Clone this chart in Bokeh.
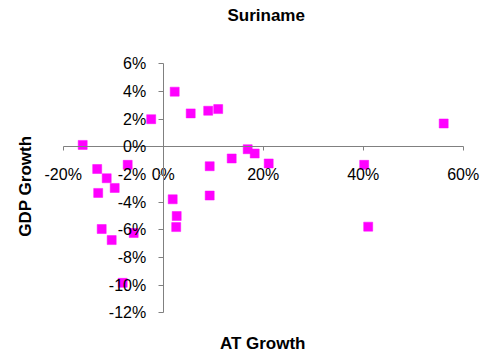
import math
from bokeh.plotting import figure
from bokeh.models import Range1d, LinearAxis, FixedTicker, PrintfTickFormatter, Label, ColumnDataSource
from bokeh.embed import file_html
from bokeh.resources import INLINE

# Data (percent)
at_growth = [-16.1, -13.2, -11.3, -9.7, -13.0, -7.1, -2.4, 2.3, 5.5, 9.0, 11.0,
             9.3, 13.7, 16.9, 18.3, 21.1, 40.2, 56.1, 1.9, 9.3, 2.7, 2.6, 41.0,
             -12.3, -10.3, -5.9, -8.1]
gdp_growth = [0.14, -1.6, -2.27, -2.97, -3.33, -1.3, 2.0, 3.99, 2.42, 2.61, 2.73,
              -1.4, -0.84, -0.17, -0.48, -1.2, -1.3, 1.69, -3.79, -3.52, -5.0, -5.8, -5.77,
              -5.94, -6.74, -6.23, -9.83]
x_ticks = [-20, 0, 20, 40, 60]
y_ticks = [-12, -10, -8, -6, -4, -2, 0, 2, 4, 6]
title_text = "Suriname"
x_title = "AT Growth"
y_title = "GDP Growth"

FONT = "Liberation Sans"

p = figure(width=486, height=358, output_backend="svg", toolbar_location=None,
           x_range=Range1d(-32.54, 64.66), y_range=Range1d(-15.30, 10.58),
           x_axis_type=None, y_axis_type=None,
           min_border_left=0, min_border_right=0, min_border_top=0, min_border_bottom=0)
p.outline_line_color = None
p.xgrid.visible = False
p.ygrid.visible = False
p.background_fill_color = "white"
p.border_fill_color = "white"

src = ColumnDataSource(dict(x=at_growth, y=gdp_growth))
p.scatter("x", "y", source=src, marker="square", size=9,
          fill_color="#FF00FF", line_color="#FF00FF", line_width=0.5)

xaxis = LinearAxis(fixed_location=0, ticker=FixedTicker(ticks=x_ticks),
                   formatter=PrintfTickFormatter(format="%d%%"),
                   bounds=(x_ticks[0], x_ticks[-1]))
yaxis = LinearAxis(fixed_location=0, ticker=FixedTicker(ticks=y_ticks),
                   formatter=PrintfTickFormatter(format="%d%%"),
                   bounds=(y_ticks[0], y_ticks[-1]))
for ax in (xaxis, yaxis):
    ax.axis_line_color = "#808080"
    ax.major_tick_line_color = "#808080"
    ax.minor_tick_line_color = None
    ax.major_tick_in = 0
    ax.major_label_text_font = FONT
    ax.major_label_text_font_size = "16px"
    ax.major_label_text_color = "black"
xaxis.major_tick_out = 4
xaxis.major_label_standoff = 15
yaxis.major_tick_out = 5
yaxis.major_label_standoff = 12
p.add_layout(xaxis, "below")
p.add_layout(yaxis, "left")

common = dict(text_font=FONT, text_font_style="bold", text_font_size="17px",
              text_color="black", text_align="center", text_baseline="middle")
p.add_layout(Label(x=20.6, y=9.49, text=title_text, **common))
p.add_layout(Label(x=19.9, y=-14.19, text=x_title, **common))
p.add_layout(Label(x=-27.6, y=-2.84, text=y_title, angle=math.pi / 2, **common))

open("out.html", "w").write(file_html(p, INLINE))
